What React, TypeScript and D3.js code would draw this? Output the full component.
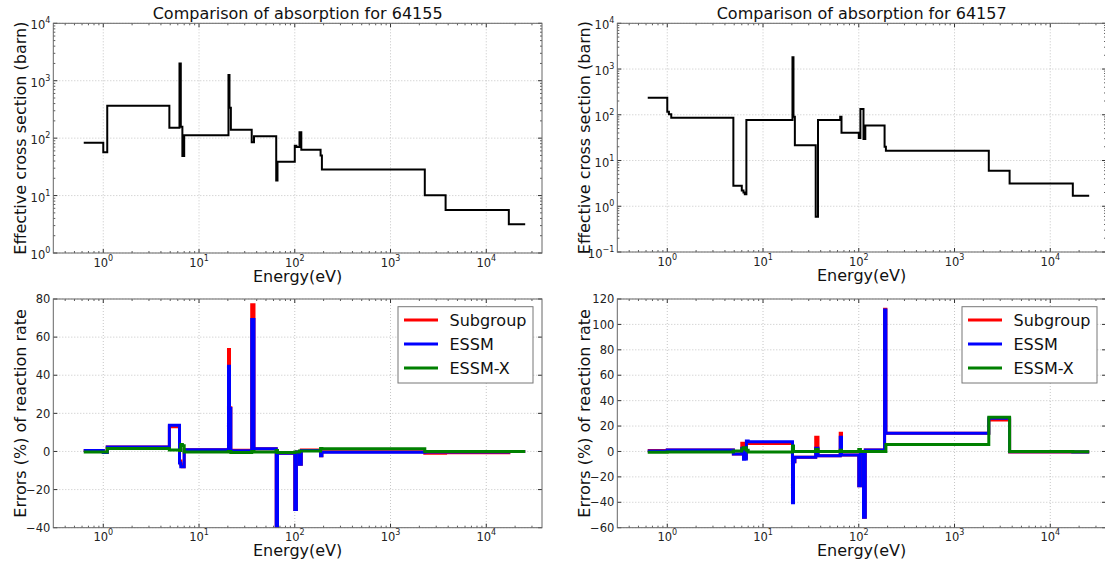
import React from "react";
import * as d3 from "d3";

// ---------------- DATA ----------------
// Energy group boundaries (eV), shared by all panels
const energyEdges = [0.625, 1.0, 1.04, 1.1, 4.9, 6.0, 6.25, 6.45, 6.7, 7.0, 20.3, 20.8, 21.5, 35.5, 37.5, 64, 66, 100, 104, 112, 117, 186, 192, 2280, 3760, 17200, 25500];

// Effective absorption cross sections (barn), one per group
const sigma64155 = [83, 57, 57, 367, 151, 151, 2000, 158, 49, 112, 1260, 339, 140, 85, 108, 18.3, 39, 74, 70, 127, 63, 50, 28.4, 10.1, 5.6, 3.18];
const sigma64157 = [235, 116, 103, 86, 2.8, 2.2, 2.0, 1.84, 76.6, 76.6, 1800, 90, 21.7, 0.59, 76.6, 90, 40.4, 31, 133, 29.4, 58.6, 20, 16.3, 5.96, 3.15, 1.69];

// Reaction-rate errors (%), one per group
const subgroup64155 = [0.5, -0.5, -0.5, 2.4, 13, 13, -5, -7, -8, 0.9, 53.5, 23, 0.7, 77, 1.4, -42, -1.0, -30.4, -0.3, -6.7, 0.8, -2.3, -0.2, -1.0, -0.7, 0];
const essm64155 = [0.5, -0.5, -0.5, 2.4, 13.8, 13.8, -6, -8, -8, 0.9, 44.7, 22.6, 0.4, 69.2, 1.4, -42, -1.0, -30.4, -0.3, -6.7, 0.5, -2.3, -0.4, -0.3, -0.3, 0];
const essmx64155 = [-0.3, -0.3, -0.3, 1.6, 0.8, 0.8, 0.5, 3.7, 3, -0.3, 0, 0, -0.5, 0, -0.3, 0.5, -0.5, -0.3, -0.3, 0.3, 0.3, 1.5, 1.4, 0, 0, 0];

const subgroup64157 = [0.7, 1.2, 1.2, 1.2, -2, 6.4, -5, -5, 6.5, 6.2, -40, -8, -4.6, 11.1, -3.3, 14.3, -2.8, -26.9, -1.4, -51.8, 1.2, 112, 14.3, 24.8, -0.4, -0.5];
const essm64157 = [0.3, 1.2, 1.2, 1.2, -2, 2.5, -6.2, -6, 8.3, 7.7, -40.3, -8, -4.6, 2.5, -3.3, 11.1, -2.8, -26.9, -1.4, -51.8, 1.2, 111.3, 14.3, 26.1, -0.2, -0.4];
const essmx64157 = [-0.7, -0.5, -0.5, -0.5, 0.4, 2, 3, 3, 1, -0.4, 4.3, 0, 0, 1.5, 0, 1, 0, 1.5, 0, 0, 0, 0, 5.4, 26.9, 0, -0.3];

// Axis ticks
const xTickExps = [0, 1, 2, 3, 4];
const yTickExps64155 = [0, 1, 2, 3, 4];
const yTickExps64157 = [-1, 0, 1, 2, 3, 4];
const errTicks64155 = [-40, -20, 0, 20, 40, 60, 80];
const errTicks64157 = [-60, -40, -20, 0, 20, 40, 60, 80, 100, 120];

const legendNames = ["Subgroup", "ESSM", "ESSM-X"];
const seriesColors = ["#ff0000", "#0000ff", "#008000"];

// ---------------- LAYOUT ----------------
const FONT = "DejaVu Sans, Liberation Sans, sans-serif";
const X_DOMAIN: [number, number] = [Math.pow(10, -0.522), Math.pow(10, 4.582)];

type Series = { values: number[]; color: string; width: number };

function stepPoints(values: number[]): [number, number][] {
  const pts: [number, number][] = [];
  values.forEach((v, i) => {
    pts.push([energyEdges[i], v]);
    pts.push([energyEdges[i + 1], v]);
  });
  return pts;
}

function supLabel(exp: number) {
  const e = exp < 0 ? "\u2212" + Math.abs(exp) : String(exp);
  return (
    <>
      10
      <tspan dy={-6} fontSize={8}>{e}</tspan>
    </>
  );
}

function Panel(props: {
  id: string;
  x0: number; y0: number; w: number; h: number;
  yLog: boolean; yDomain: [number, number];
  yTicks: number[];
  series: Series[];
  title?: string;
  ylabel: string;
  legend?: boolean;
}) {
  const { id, x0, y0, w, h, yLog, yDomain, yTicks, series, title, ylabel, legend } = props;
  const xScale = d3.scaleLog().domain(X_DOMAIN).range([x0, x0 + w]);
  const yScale: any = yLog
    ? d3.scaleLog().domain(yDomain).range([y0 + h, y0])
    : d3.scaleLinear().domain(yDomain).range([y0 + h, y0]);

  const xMajor = xTickExps.map((e) => Math.pow(10, e));
  const xMinor: number[] = [];
  for (let d = -1; d <= 4; d++)
    for (let m = 2; m <= 9; m++) {
      const v = m * Math.pow(10, d);
      if (v > X_DOMAIN[0] && v < X_DOMAIN[1]) xMinor.push(v);
    }
  const yMajor = yLog ? yTicks.map((e) => Math.pow(10, e)) : yTicks;
  const yMinor: number[] = [];
  if (yLog) {
    for (let d = yTicks[0]; d < yTicks[yTicks.length - 1]; d++)
      for (let m = 2; m <= 9; m++) yMinor.push(m * Math.pow(10, d));
  }

  const line = d3
    .line<[number, number]>()
    .x((d) => xScale(d[0]))
    .y((d) => yScale(d[1]));

  const bottom = y0 + h;
  const right = x0 + w;
  const gridColor = "#b8b8b8";
  const tickColor = "#333";

  return (
    <g>
      <defs>
        <clipPath id={id}>
          <rect x={x0} y={y0} width={w} height={h} />
        </clipPath>
      </defs>
      <rect x={x0} y={y0} width={w} height={h} fill="#fff" />
      {xMajor.map((v) => (
        <line key={"gx" + v} x1={xScale(v)} x2={xScale(v)} y1={y0} y2={bottom} stroke={gridColor} strokeWidth={0.8} strokeDasharray="1,2" />
      ))}
      {yMajor.map((v) => (
        <line key={"gy" + v} x1={x0} x2={right} y1={yScale(v)} y2={yScale(v)} stroke={gridColor} strokeWidth={0.8} strokeDasharray="1,2" />
      ))}
      <g clipPath={`url(#${id})`}>
        {series.map((s, i) => (
          <path key={i} d={line(stepPoints(s.values)) || ""} fill="none" stroke={s.color} strokeWidth={s.width} strokeLinejoin="miter" />
        ))}
      </g>
      {xMajor.map((v) => (
        <g key={"tx" + v}>
          <line x1={xScale(v)} x2={xScale(v)} y1={bottom} y2={bottom - 4} stroke={tickColor} />
          <line x1={xScale(v)} x2={xScale(v)} y1={y0} y2={y0 + 4} stroke={tickColor} />
          <text x={xScale(v)} y={bottom + 13.5} textAnchor="middle" fontSize={11.5} fontFamily={FONT} fill="#222">
            {supLabel(Math.round(Math.log10(v)))}
          </text>
        </g>
      ))}
      {xMinor.map((v) => (
        <g key={"mx" + v}>
          <line x1={xScale(v)} x2={xScale(v)} y1={bottom} y2={bottom - 2} stroke={tickColor} strokeWidth={0.8} />
          <line x1={xScale(v)} x2={xScale(v)} y1={y0} y2={y0 + 2} stroke={tickColor} strokeWidth={0.8} />
        </g>
      ))}
      {yMajor.map((v) => (
        <g key={"ty" + v}>
          <line x1={x0} x2={x0 + 4} y1={yScale(v)} y2={yScale(v)} stroke={tickColor} />
          <line x1={right} x2={right - 4} y1={yScale(v)} y2={yScale(v)} stroke={tickColor} />
          <text x={x0 - 3} y={yScale(v) + (yLog ? 6 : 4.2)} textAnchor="end" fontSize={11.5} fontFamily={FONT} fill="#222">
            {yLog ? supLabel(Math.round(Math.log10(v))) : v < 0 ? "\u2212" + Math.abs(v) : String(v)}
          </text>
        </g>
      ))}
      {yMinor.map((v) => (
        <g key={"my" + v}>
          <line x1={x0} x2={x0 + 2} y1={yScale(v)} y2={yScale(v)} stroke={tickColor} strokeWidth={0.8} />
          <line x1={right} x2={right - 2} y1={yScale(v)} y2={yScale(v)} stroke={tickColor} strokeWidth={0.8} />
        </g>
      ))}
      <rect x={x0} y={y0} width={w} height={h} fill="none" stroke="#666" strokeWidth={1} />
      {title && (
        <text x={x0 + w / 2} y={y0 - 4} textAnchor="middle" fontSize={16} fontFamily={FONT} fill="#111">
          {title}
        </text>
      )}
      <text x={x0 + w / 2} y={bottom + 28.5} textAnchor="middle" fontSize={16} fontFamily={FONT} fill="#111">
        Energy(eV)
      </text>
      <text
        transform={`translate(${x0 - 27},${y0 + h / 2}) rotate(-90)`}
        textAnchor="middle"
        fontSize={16}
        fontFamily={FONT}
        fill="#111"
      >
        {ylabel}
      </text>
      {legend && (
        <g>
          <rect x={right - 144} y={y0 + 7.7} width={135} height={76.3} fill="#fff" stroke="#777" strokeWidth={1} />
          {legendNames.map((name, i) => {
            const ly = y0 + 21 + i * 24;
            return (
              <g key={name}>
                <line x1={right - 138} x2={right - 104} y1={ly} y2={ly} stroke={seriesColors[i]} strokeWidth={3} />
                <text x={right - 92.5} y={ly + 5.8} fontSize={16} fontFamily={FONT} fill="#111">
                  {name}
                </text>
              </g>
            );
          })}
        </g>
      )}
    </g>
  );
}

export default function App() {
  const W = 488.7;
  const errSeries = (a: number[], b: number[], c: number[]): Series[] => [
    { values: a, color: seriesColors[0], width: 3 },
    { values: b, color: seriesColors[1], width: 3 },
    { values: c, color: seriesColors[2], width: 3 },
  ];
  return (
    <svg
      width={1105}
      height={567}
      viewBox="0 0 1105 567"
      style={{ position: "absolute", left: 0, top: 0, background: "#fff" }}
    >
      <rect x={0} y={0} width={1105} height={567} fill="#fff" />
      <Panel
        id="c1" x0={53.3} y0={23.3} w={W} h={229.7}
        yLog={true} yDomain={[1, 1e4]} yTicks={yTickExps64155}
        series={[{ values: sigma64155, color: "#000", width: 2 }]}
        title="Comparison of absorption for 64155"
        ylabel="Effective cross section (barn)"
      />
      <Panel
        id="c2" x0={617.3} y0={23.3} w={W} h={228.7}
        yLog={true} yDomain={[0.1, 1e4]} yTicks={yTickExps64157}
        series={[{ values: sigma64157, color: "#000", width: 2 }]}
        title="Comparison of absorption for 64157"
        ylabel="Effective cross section (barn)"
      />
      <Panel
        id="c3" x0={53.3} y0={299} w={W} h={228.7}
        yLog={false} yDomain={[-40, 80]} yTicks={errTicks64155}
        series={errSeries(subgroup64155, essm64155, essmx64155)}
        ylabel="Errors (%) of reaction rate"
        legend={true}
      />
      <Panel
        id="c4" x0={617.3} y0={299} w={W} h={228.7}
        yLog={false} yDomain={[-60, 120]} yTicks={errTicks64157}
        series={errSeries(subgroup64157, essm64157, essmx64157)}
        ylabel="Errors (%) of reaction rate"
        legend={true}
      />
    </svg>
  );
}
